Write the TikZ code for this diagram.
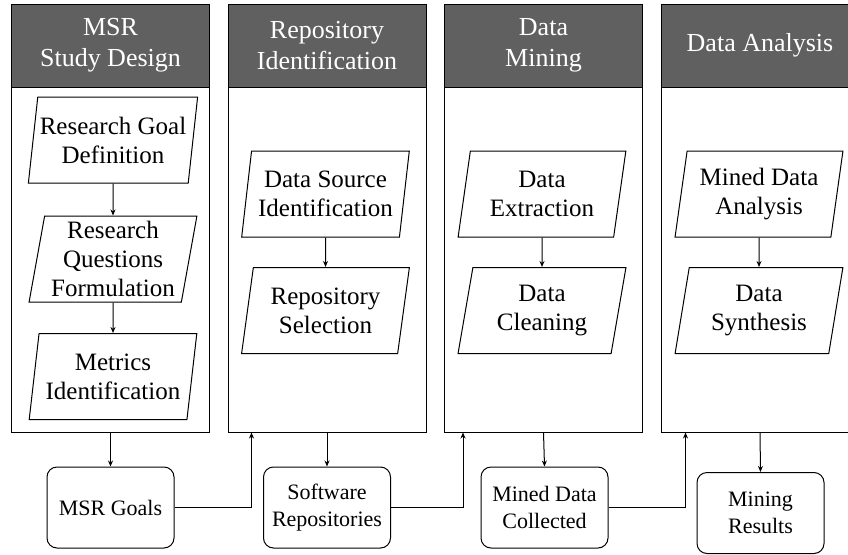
\documentclass[tikz,border=0pt]{standalone}
\usepackage{fontspec}
\setmainfont{Liberation Serif}
\usetikzlibrary{arrows.meta, calc, positioning, shapes.geometric}
\definecolor{hdrgray}{RGB}{96,96,96}
\tikzset{
  header/.style={draw, fill=hdrgray, text=white, minimum width=198pt, minimum height=83pt, align=center, font=\rmfamily\fontsize{26}{31}\selectfont},
  lane/.style={draw, minimum width=198pt, minimum height=345pt},
  task/.style={draw, fill=white, trapezium, trapezium left angle=80, trapezium right angle=100, trapezium stretches=true, minimum width=168pt, minimum height=86pt, inner xsep=2pt, align=center, font=\rmfamily\fontsize{25}{29}\selectfont},
  result/.style={draw, rounded corners=10pt, minimum width=127pt, minimum height=81pt, align=center, font=\rmfamily\fontsize{22}{27}\selectfont}
}

\begin{document}
\begin{tikzpicture}[>={Stealth[length=6pt, width=5pt]}, x=1pt, y=-1pt, line width=1pt]
        \useasboundingbox (0,0) rectangle (848,554);

        % lanes
        \node[header] (H1) at (110.5,45.5) {MSR\\Study Design};
        \node[lane] (L1) at (110.5,259.5) {};
        \node[header] (H2) at (327,45.5) {Repository\\Identification};
        \node[lane] (L2) at (327,259.5) {};
        \node[header] (H3) at (543.5,45.5) {Data\\Mining};
        \node[lane] (L3) at (543.5,259.5) {};
        \node[header] (H4) at (760,45.5) {Data Analysis};
        \node[lane] (L4) at (760,259.5) {};

        % steps
        \node[task] (Goal) at (113,140) {Research Goal\\Definition};
        \node[task] (RQ) at (113,259) {Research\\Questions\\Formulation};
        \node[task] (Metrics) at (113,376.5) {Metrics\\Identification};
        \node[task] (Source) at (325.5,194) {Data Source\\Identification};
        \node[task] (Select) at (325.5,310.5) {Repository\\Selection};
        \node[task] (Extract) at (542,194) {Data\\Extraction};
        \node[task] (Clean) at (542,310.5) {Data\\Cleaning};
        \node[task] (Analysis) at (759,194) {Mined Data\\Analysis};
        \node[task] (Synth) at (759,310.5) {Data\\Synthesis};

        \draw[->] (Goal) -- (RQ);
        \draw[->] (RQ) -- (Metrics);
        \draw[->] (Source) -- (Select);
        \draw[->] (Extract) -- (Clean);
        \draw[->] (Analysis) -- (Synth);

        % outputs
        \node[result] (Goals) at (110.5,507.5) {MSR Goals};
        \node[result] (Repos) at (327,507.5) {Software\\Repositories};
        \node[result] (Mined) at (544.5,507.5) {Mined Data\\Collected};
        \node[result] (Results) at (760.5,513) {Mining\\Results};

        \draw[->] (L1.south) -- (Goals.north);
        \draw[->] (L2.south) -- (Repos.north);
        \draw[->] (L3.south) -- (Mined.north);
        \draw[->] (L4.south) -- (Results.north);

        \coordinate (in2) at ($(L2.south west)+(24,0)$);
        \coordinate (in3) at ($(L3.south west)+(19,0)$);
        \coordinate (in4) at ($(L4.south west)+(25,0)$);
        \draw[->] (Goals.east) -| (in2);
        \draw[->] (Repos.east) -| (in3);
        \draw[->] (Mined.east) -| (in4);
    \end{tikzpicture}
\end{document}
